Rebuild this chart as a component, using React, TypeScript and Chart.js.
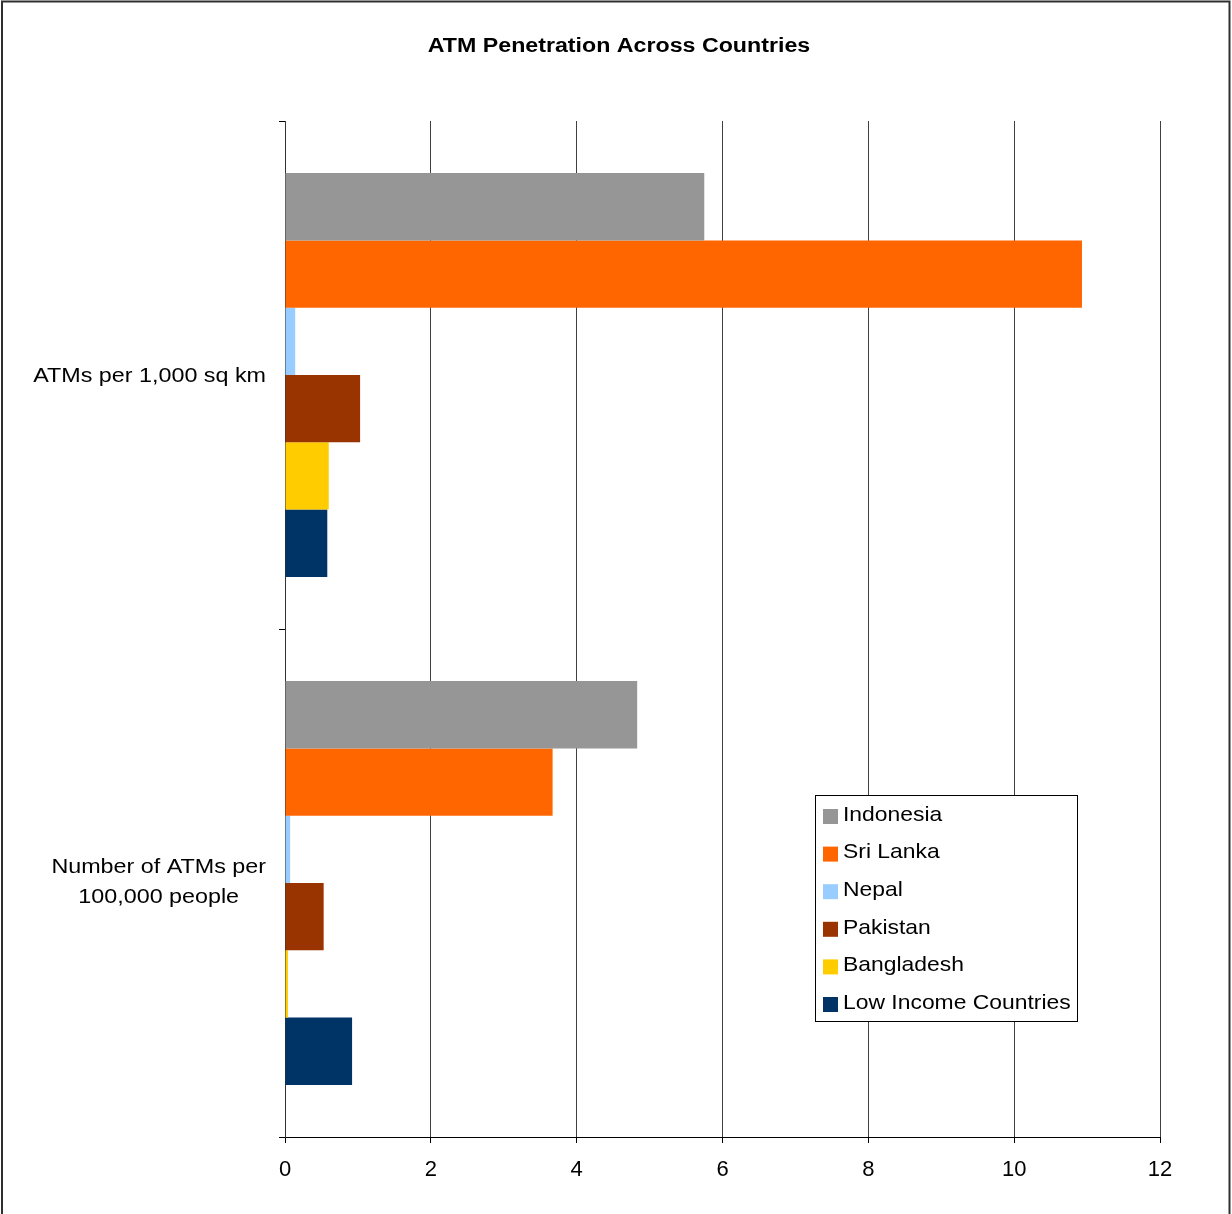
import React, { useEffect, useRef } from "react";
import { Chart, registerables } from "chart.js";

Chart.register(...registerables);

const categories: string[][] = [["ATMs per 1,000 sq km"], ["Number of ATMs per", "100,000 people"]];
const seriesNames = ["Indonesia", "Sri Lanka", "Nepal", "Pakistan", "Bangladesh", "Low Income Countries"];
const seriesColors = ["#969696", "#FF6600", "#99CCFF", "#993300", "#FFCC00", "#003366"];
const indonesia = [5.75, 4.83];
const sriLanka = [10.93, 3.67];
const nepal = [0.14, 0.07];
const pakistan = [1.03, 0.53];
const bangladesh = [0.6, 0.04];
const lowIncome = [0.58, 0.92];
const xMin = 0;
const xMax = 12;
const xStep = 2;
const title = "ATM Penetration Across Countries";

const FONT = "'Liberation Sans', Arial, sans-serif";

function drawText(ctx: CanvasRenderingContext2D, text: string, x: number, y: number, align: string, font: string, sx: number) {
  ctx.save();
  ctx.font = font;
  ctx.textBaseline = "middle";
  ctx.textAlign = "left";
  const w = ctx.measureText(text).width * sx;
  const left = align === "center" ? x - w / 2 : align === "right" ? x - w : x;
  ctx.translate(left, y);
  ctx.scale(sx, 1);
  ctx.fillStyle = "#000";
  ctx.fillText(text, 0, 0);
  ctx.restore();
}

const decorPlugin = {
  id: "decor",
  afterDraw(chart: any) {
    const ctx: CanvasRenderingContext2D = chart.ctx;
    // outer border (left, top, right)
    ctx.save();
    ctx.strokeStyle = "#303030";
    ctx.lineWidth = 2;
    ctx.beginPath();
    ctx.moveTo(2, 1214);
    ctx.lineTo(2, 1.5);
    ctx.lineTo(1229.5, 1.5);
    ctx.lineTo(1229.5, 1214);
    ctx.stroke();
    ctx.restore();
    // title
    drawText(ctx, title, 619, 46, "center", `bold 20px ${FONT}`, 1.16);
    // y category labels
    const yScale = chart.scales.y;
    const labFont = `21px ${FONT}`;
    const sx = 1.11;
    categories.forEach((lines, i) => {
      const cy = yScale.getPixelForValue(i);
      ctx.save();
      ctx.font = labFont;
      const widths = lines.map((l) => ctx.measureText(l).width * sx);
      ctx.restore();
      const blockW = Math.max(...widths);
      const right = 266;
      const center = right - blockW / 2;
      const lh = 30;
      const startY = cy - ((lines.length - 1) * lh) / 2 - (lines.length > 1 ? 2 : 0);
      lines.forEach((l, j) => drawText(ctx, l, center, startY + j * lh + 1, "center", labFont, sx));
    });
    // legend
    ctx.save();
    ctx.fillStyle = "#fff";
    ctx.fillRect(815.5, 795.5, 262, 226);
    ctx.strokeStyle = "#000";
    ctx.lineWidth = 1;
    ctx.strokeRect(815.5, 795.5, 262, 226);
    ctx.restore();
    chart.data.datasets.forEach((ds: any, i: number) => {
      const cy = 815 + i * 37.6;
      ctx.save();
      ctx.fillStyle = ds.backgroundColor;
      ctx.fillRect(823, cy - 6, 15, 15);
      ctx.restore();
      drawText(ctx, ds.label, 843, cy, "left", `21px ${FONT}`, 1.09);
    });
  },
};

export default function App() {
  const ref = useRef<HTMLCanvasElement>(null);
  useEffect(() => {
    if (!ref.current) return;
    const seriesValues = [indonesia, sriLanka, nepal, pakistan, bangladesh, lowIncome];
    const chart = new Chart(ref.current, {
      type: "bar",
      data: {
        labels: categories.map((c) => c.join(" ")),
        datasets: seriesNames.map((name, i) => ({
          label: name,
          data: seriesValues[i],
          backgroundColor: seriesColors[i],
          borderWidth: 0,
          barPercentage: 1,
          categoryPercentage: 0.795,
        })),
      },
      options: {
        indexAxis: "y",
        responsive: false,
        animation: false,
        devicePixelRatio: 1,
        layout: { padding: { top: 121, right: 72, left: 0, bottom: 0 } },
        plugins: {
          legend: { display: false },
          title: { display: false },
          tooltip: { enabled: false },
        },
        scales: {
          x: {
            min: xMin,
            max: xMax,
            ticks: {
              stepSize: xStep,
              color: "#000",
              font: { size: 22, family: FONT },
              padding: 14,
              maxRotation: 0,
            },
            grid: { color: "#404040", lineWidth: 1, tickLength: 6, tickColor: "#000" },
            border: { display: true, color: "#000", width: 1 },
            afterFit: (scale: any) => {
              scale.height = 77;
            },
          },
          y: {
            ticks: { display: false },
            grid: { drawOnChartArea: false, drawTicks: true, tickLength: 6, color: "#000" },
            border: { display: true, color: "#333", width: 1 },
            afterFit: (scale: any) => {
              scale.width = 285;
            },
          },
        },
      } as any,
      plugins: [decorPlugin],
    });
    return () => chart.destroy();
  }, []);
  return (
    <div style={{ position: "absolute", left: 0, top: 0, width: 1232, height: 1214, background: "#fff" }}>
      <canvas ref={ref} width={1232} height={1214} style={{ display: "block" }} />
    </div>
  );
}
